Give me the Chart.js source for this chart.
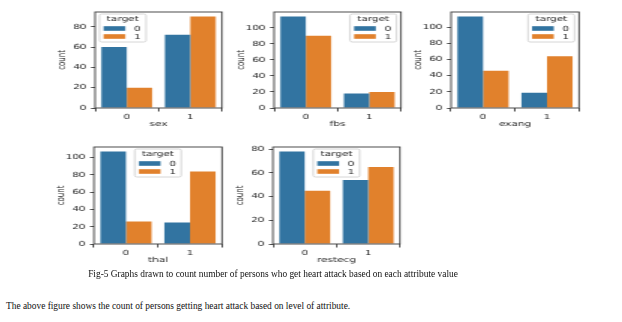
<!DOCTYPE html>
<html>
<head>
<meta charset="utf-8">
<script src="https://cdn.jsdelivr.net/npm/chart.js@4/dist/chart.umd.min.js"></script>
<style>
  body { margin: 0; background: #fff; width: 622px; height: 322px; position: relative; overflow: hidden; }
  .plot { position: absolute; transform: scaleX(1.5); transform-origin: 0 0; }
  .cap { position: absolute; font-family: "Liberation Serif", serif; font-size: 9.4px; color: #111; white-space: nowrap; }
</style>
</head>
<body>
<div class="plot" id="p1"><canvas id="c1"></canvas></div>
<div class="plot" id="p2"><canvas id="c2"></canvas></div>
<div class="plot" id="p3"><canvas id="c3"></canvas></div>
<div class="plot" id="p4"><canvas id="c4"></canvas></div>
<div class="plot" id="p5"><canvas id="c5"></canvas></div>
<div class="cap" id="cap1" style="left:0; width:546px; top:269px; text-align:center;">Fig-5 Graphs drawn to count number of persons who get heart attack based on each attribute value</div>
<div class="cap" id="cap2" style="left:6px; top:301px;">The above figure shows the count of persons getting heart attack based on level of attribute.</div>
<script>
// Daten ------------------------------------------------------------
const categories = ['0', '1'];      // Werte des Attributs
const hueName = 'target';
const hueLabels = ['0', '1'];
const yTitle = 'count';
const yTickValues = [0, 20, 40, 60, 80, 100];

const sexT0 = [60, 72];
const sexT1 = [20, 90];
const fbsT0 = [114, 18];
const fbsT1 = [90, 20];
const exangT0 = [113, 19];
const exangT1 = [46, 64];
const thalT0 = [107, 25];
const thalT1 = [26, 84];
const restecgT0 = [78, 54];
const restecgT1 = [45, 65];
// ------------------------------------------------------------------

const blue = '#3274a1';
const orange = '#e1812c';
const SX = 1.5;   // Bild ist horizontal gestreckt
const tickFont = { family: 'DejaVu Sans', size: 7 };

// Legende im Plot (wie matplotlib) + Rahmen um den Plotbereich
const boxLegend = {
    id: 'boxLegend',
    afterDraw(chart, args, opts) {
        const ctx = chart.ctx;
        const a = chart.chartArea;
        ctx.save();
        ctx.strokeStyle = '#3a3a3a';
        ctx.lineWidth = 0.9;
        ctx.strokeRect(a.left, a.top, a.right - a.left, a.bottom - a.top);

        const w = 31, h = 28;
        let x;
        if (opts.where === 'left') x = a.left + 3;
        else if (opts.where === 'right') x = a.right - 3 - w;
        else x = (a.left + a.right - w) / 2;
        const y = a.top + 2;

        ctx.fillStyle = 'rgba(255,255,255,0.8)';
        ctx.strokeStyle = '#cccccc';
        ctx.lineWidth = 0.8;
        ctx.beginPath();
        ctx.roundRect(x, y, w, h, 1.5);
        ctx.fill();
        ctx.stroke();

        ctx.font = '7px "DejaVu Sans"';
        ctx.fillStyle = '#262626';
        ctx.textBaseline = 'middle';
        ctx.textAlign = 'center';
        ctx.fillText(hueName, x + w / 2, y + 5.5);
        chart.data.datasets.forEach((ds, i) => {
            const ry = y + 14.5 + i * 8;
            ctx.fillStyle = ds.backgroundColor;
            ctx.fillRect(x + 2.7, ry - 2.3, 14.5, 4.6);
            ctx.fillStyle = '#262626';
            ctx.textAlign = 'left';
            ctx.fillText(ds.label, x + 23, ry + 0.3);
        });
        ctx.restore();
    }
};

function makePlot(n, xName, t0, t1, box, where) {
    const wrap = document.getElementById('p' + n);
    const canvas = document.getElementById('c' + n);
    const areaW = (box.R - box.L) / SX;
    canvas.width = Math.round((box.R - box.L + 50) / SX);
    canvas.height = box.B - box.T + 42;
    wrap.style.left = (box.L - 45) + 'px';
    wrap.style.top = (box.T - 12) + 'px';

    const yMax = Math.max(...t0, ...t1) * 1.05;   // matplotlib Rand

    new Chart(canvas.getContext('2d'), {
        type: 'bar',
        data: {
            labels: categories,
            datasets: [
                { label: hueLabels[0], data: t0, backgroundColor: blue },
                { label: hueLabels[1], data: t1, backgroundColor: orange }
            ]
        },
        options: {
            responsive: false,
            animation: false,
            devicePixelRatio: 1,
            categoryPercentage: 0.8,
            barPercentage: 1.0,
            layout: { padding: { top: 12, right: canvas.width - 30 - areaW, left: 0, bottom: 0 } },
            scales: {
                x: {
                    grid: { display: true, drawOnChartArea: false, drawTicks: true, tickLength: 3.5, color: '#3a3a3a', lineWidth: 0.9 },
                    border: { display: false },
                    ticks: { font: tickFont, color: '#262626', padding: 1 },
                    title: { display: true, text: xName, font: tickFont, color: '#262626', padding: { top: 0, bottom: 9.5 } },
                    afterFit: s => { s.height = 30; }
                },
                y: {
                    min: 0,
                    max: yMax,
                    grid: { display: true, drawOnChartArea: false, drawTicks: true, tickLength: 2.7, color: '#3a3a3a', lineWidth: 0.9 },
                    border: { display: false },
                    ticks: { font: tickFont, color: '#262626', padding: 3 },
                    afterBuildTicks: s => { s.ticks = yTickValues.filter(v => v <= yMax).map(v => ({ value: v })); },
                    title: { display: true, text: yTitle, font: tickFont, color: '#262626', padding: { top: 4, bottom: 0 } },
                    afterFit: s => { s.width = 30; }
                }
            },
            plugins: {
                legend: { display: false },
                tooltip: { enabled: false },
                boxLegend: { where: where }
            }
        },
        plugins: [boxLegend]
    });
}

makePlot(1, 'sex', sexT0, sexT1, { L: 95, T: 12, R: 222, B: 108 }, 'left');
makePlot(2, 'fbs', fbsT0, fbsT1, { L: 274, T: 12, R: 401, B: 108 }, 'right');
makePlot(3, 'exang', exangT0, exangT1, { L: 451, T: 12, R: 579, B: 108 }, 'right');
makePlot(4, 'thal', thalT0, thalT1, { L: 94, T: 147, R: 222, B: 244 }, 'center');
makePlot(5, 'restecg', restecgT0, restecgT1, { L: 273, T: 147, R: 400, B: 244 }, 'center');
</script>
</body>
</html>
